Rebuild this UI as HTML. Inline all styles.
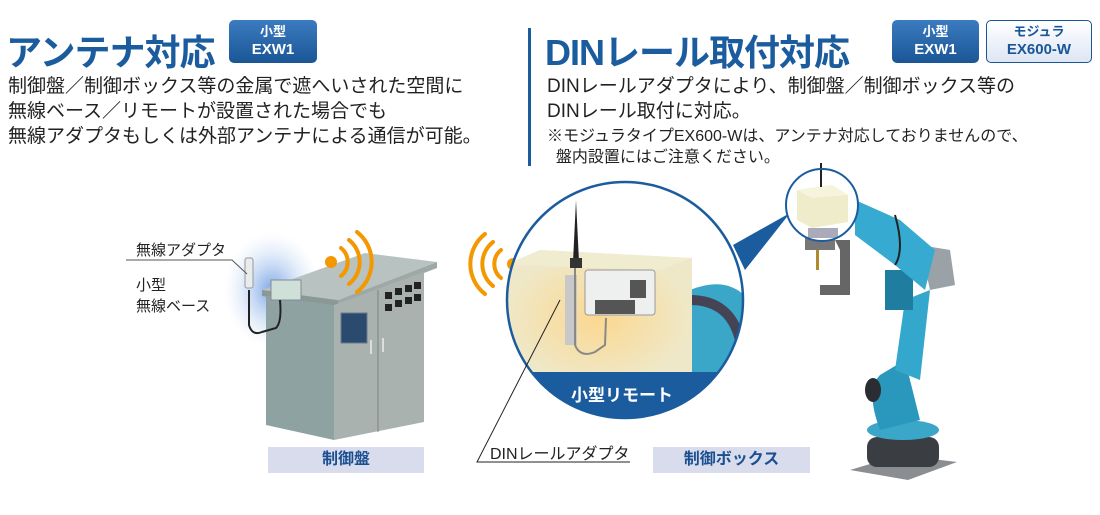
<!DOCTYPE html>
<html><head><meta charset="utf-8"><style>
body{margin:0;width:1100px;height:515px;background:#fff;position:relative;overflow:hidden;font-family:"Liberation Sans","Noto Sans CJK JP",sans-serif;}
.t{position:absolute;white-space:nowrap;}
.h{font-size:36px;font-weight:bold;color:#1a5c9e;letter-spacing:-1px;}
.b{font-size:19px;color:#222;line-height:25px;}
.badge{position:absolute;border-radius:5px;text-align:center;font-weight:bold;line-height:18px;}
.bd{background:linear-gradient(#3b7bbf,#1a5696);color:#fff;font-size:15px;padding-top:3px;}
.bl{background:linear-gradient(#fff,#dde6f4);color:#1a5696;border:1.5px solid #1a5696;font-size:15px;padding-top:2px;}
.lab{position:absolute;background:#d8dcec;color:#1a4f90;font-size:16px;font-weight:bold;text-align:center;line-height:26px;}
</style></head><body>
<div class="t h" style="left:6px;top:24px;">アンテナ対応</div>
<div class="badge bd" style="left:229px;top:20px;width:88px;height:40px;"><span style="font-size:13px">小型</span><br>EXW1</div>
<div class="t b" style="left:8px;top:74px;">制御盤／制御ボックス等の金属で遮へいされた空間に<br>無線ベース／リモートが設置された場合でも<br>無線アダプタもしくは外部アンテナによる通信が可能。</div>

<div style="position:absolute;left:528px;top:28px;width:3px;height:138px;background:#1a5c9e"></div>
<div class="t h" style="left:545px;top:24px;">DINレール取付対応</div>
<div class="badge bd" style="left:892px;top:20px;width:87px;height:40px;"><span style="font-size:13px">小型</span><br>EXW1</div>
<div class="badge bl" style="left:986px;top:20px;width:104px;height:39px;"><span style="font-size:13px">モジュラ</span><br>EX600-W</div>
<div class="t b" style="left:547px;top:74px;">DINレールアダプタにより、制御盤／制御ボックス等の<br>DINレール取付に対応。</div>
<div class="t" style="left:547px;top:126px;font-size:16px;color:#222;line-height:21px;">※モジュラタイプEX600-Wは、アンテナ対応しておりませんので、<br>&nbsp;&nbsp;盤内設置にはご注意ください。</div>

<svg style="position:absolute;left:0;top:0" width="1100" height="515">
<defs>
<radialGradient id="glow" cx="0.5" cy="0.5" r="0.5"><stop offset="0" stop-color="#5a8ee0" stop-opacity="0.8"/><stop offset="1" stop-color="#c8dcf4" stop-opacity="0"/></radialGradient>
<radialGradient id="yg" cx="0.5" cy="0.5" r="0.5"><stop offset="0" stop-color="#fbd890"/><stop offset="1" stop-color="#efe8c8"/></radialGradient>
<clipPath id="cc"><circle cx="625" cy="300" r="118"/></clipPath>
</defs>
<ellipse cx="272" cy="290" rx="48" ry="58" fill="url(#glow)"/>
<!-- cabinet -->
<polygon points="262,290 365,253 437,262 338,300" fill="#b8c2c0"/>
<polygon points="262,290 338,300 338,306 262,296" fill="#8a9896"/>
<polygon points="338,300 437,262 437,268 338,306" fill="#9ea8a6"/>
<polygon points="266,296 334,305 334,440 266,425" fill="#8ea2a2"/>
<polygon points="334,305 424,272 424,422 334,440" fill="#aab2b0"/>
<line x1="378" y1="290" x2="378" y2="432" stroke="#7a8482" stroke-width="1"/>
<rect x="341" y="313" width="26" height="30" fill="#2a4a6e" stroke="#6a7a8a"/>
<g fill="#222"><rect x="385" y="292" width="7" height="7"/><rect x="395" y="288" width="7" height="7"/><rect x="405" y="285" width="7" height="7"/><rect x="414" y="282" width="7" height="7"/>
<rect x="385" y="304" width="7" height="7"/><rect x="395" y="300" width="7" height="7"/><rect x="405" y="297" width="7" height="7"/><rect x="414" y="294" width="7" height="7"/></g>
<rect x="370" y="340" width="2" height="14" fill="#ddd"/><rect x="382" y="338" width="2" height="14" fill="#ddd"/>
<!-- adapter + base -->
<rect x="245" y="258" width="8" height="30" rx="2" fill="#e8ecec" stroke="#999"/>
<rect x="271" y="280" width="30" height="20" fill="#cfe0d8" stroke="#889"/>
<path d="M249,290 L249,325 Q252,336 262,332 L276,328 Q282,322 280,300" fill="none" stroke="#222" stroke-width="2"/>
<polyline points="126,260 232,260 247,274" fill="none" stroke="#555" stroke-width="1"/>
<g fill="none" stroke="#f39800" stroke-width="4" stroke-linecap="round">
<circle cx="331" cy="262" r="6" fill="#f39800" stroke="none"/>
<path d="M341,248 A18,18 0 0 1 341,276"/><path d="M349,240 A28,28 0 0 1 349,284"/><path d="M357,232 A38,38 0 0 1 357,292"/>
<circle cx="513" cy="264" r="6" fill="#f39800" stroke="none"/>
<path d="M501,250 A18,18 0 0 0 501,278"/><path d="M493,242 A28,28 0 0 0 493,286"/><path d="M485,234 A38,38 0 0 0 485,294"/>
</g>
<polygon points="733,245 790,213 745,270" fill="#1a5c9e"/>
<g clip-path="url(#cc)">
<rect x="500" y="180" width="250" height="240" fill="#fff"/>
<path d="M690,290 Q740,270 760,320 L760,420 L680,420 Z" fill="#3aa6c8"/>
<path d="M690,300 Q730,300 740,340" stroke="#445" stroke-width="10" fill="none"/>
<polygon points="505,265 540,250 692,258 692,385 505,385" fill="url(#yg)"/>
<polygon points="505,265 540,250 692,258 660,270" fill="#f0ecd0"/>
<rect x="565" y="275" width="12" height="70" fill="#c8c8c8"/>
<rect x="585" y="270" width="70" height="45" rx="3" fill="#eef0f0" stroke="#999"/>
<rect x="630" y="280" width="16" height="18" fill="#555"/>
<rect x="595" y="300" width="40" height="14" fill="#555"/>
<path d="M576,200 L573,262 L579,262 Z" fill="#222"/>
<rect x="570" y="258" width="12" height="10" fill="#333"/>
<path d="M575,268 L575,345 Q580,358 595,352 L605,345 L606,318" fill="none" stroke="#888" stroke-width="2"/>
<rect x="500" y="372" width="260" height="50" fill="#1a5c9e"/>
</g>
<circle cx="625" cy="300" r="118" fill="none" stroke="#1a5c9e" stroke-width="2.5"/>
<text x="622" y="401" font-size="17" font-weight="bold" fill="#fff" text-anchor="middle" font-family="Liberation Sans,Noto Sans CJK JP,sans-serif">小型リモート</text>
<polyline points="560,300 477,462 630,462" fill="none" stroke="#222" stroke-width="1"/>
<!-- robot -->
<polygon points="850,470 900,455 957,462 908,480" fill="#8a8e92"/>
<rect x="867" y="437" width="72" height="30" rx="10" fill="#3a3e42"/>
<ellipse cx="903" cy="430" rx="36" ry="10" fill="#3aa6c8"/>
<path d="M880,430 Q865,390 880,375 L905,360 L920,420 Z" fill="#2a98bc"/>
<ellipse cx="873" cy="390" rx="8" ry="12" fill="#2a2e32"/>
<path d="M895,370 L905,300 L930,290 L920,380 Z" fill="#34a8cc"/>
<rect x="885" y="270" width="28" height="40" fill="#1f7ea0"/>
<polygon points="920,245 950,250 955,285 930,290" fill="#9aa2a8"/>
<path d="M855,200 L900,220 L935,250 L925,290 L895,265 L855,235 Z" fill="#36aad0"/>
<path d="M895,215 Q905,250 895,265" stroke="#222" stroke-width="2" fill="none"/>
<rect x="805" y="235" width="30" height="15" fill="#777"/>
<path d="M835,240 L850,240 L850,295 L820,295 L820,285 L840,285 L840,250" fill="#666"/>
<rect x="816" y="250" width="3" height="20" fill="#b08a30"/>
<circle cx="822" cy="205" r="36" fill="#fff"/>
<polygon points="797,190 832,185 848,195 848,222 812,228 797,220" fill="#efeccc"/>
<polygon points="797,190 832,185 848,195 812,198" fill="#f6f4dc"/>
<rect x="820" y="163" width="2" height="24" fill="#222"/>
<rect x="808" y="228" width="30" height="10" fill="#aab"/>
<circle cx="822" cy="205" r="36" fill="none" stroke="#1a5c9e" stroke-width="2"/>
</svg>

<div class="t" style="left:136px;top:239px;font-size:15px;color:#222;">無線アダプタ</div>
<div class="t" style="left:136px;top:275px;font-size:15px;color:#222;line-height:21px;">小型<br>無線ベース</div>
<div class="t" style="left:490px;top:440px;font-size:16px;color:#222;">DINレールアダプタ</div>
<div class="lab" style="left:268px;top:447px;width:156px;height:26px;">制御盤</div>
<div class="lab" style="left:653px;top:447px;width:157px;height:26px;">制御ボックス</div>
</body></html>
